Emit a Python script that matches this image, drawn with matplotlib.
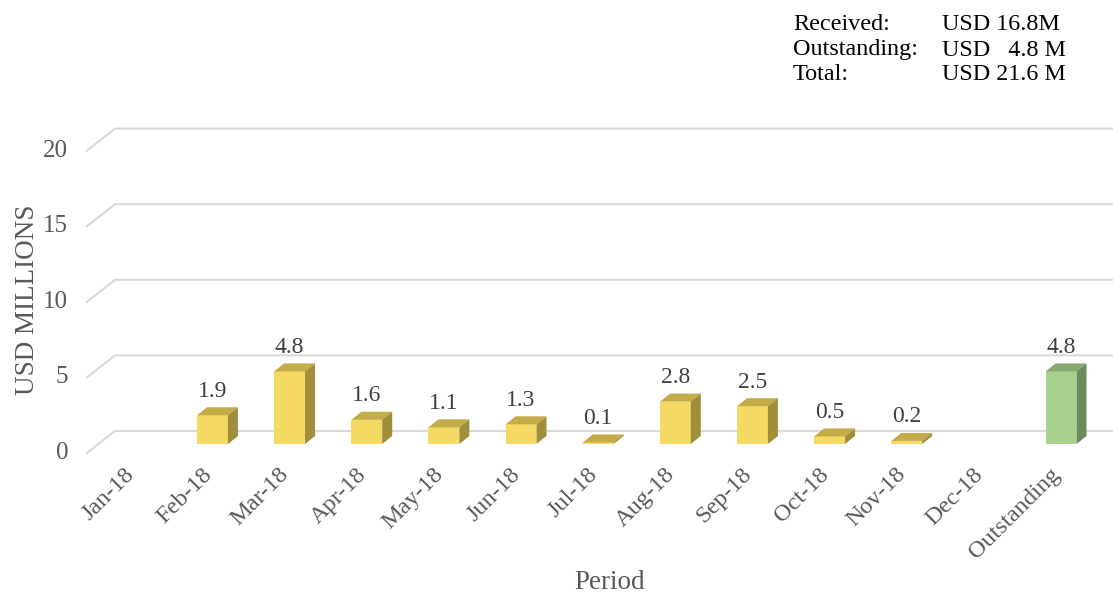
import matplotlib
matplotlib.use('Agg')
import matplotlib.pyplot as plt
from matplotlib.patches import Polygon
import numpy as np

plt.rcParams['font.family'] = ['Liberation Serif', 'DejaVu Serif']

# ── Data ─────────────────────────────────────────────────────────
periods = ['Jan-18', 'Feb-18', 'Mar-18', 'Apr-18', 'May-18', 'Jun-18', 'Jul-18',
           'Aug-18', 'Sep-18', 'Oct-18', 'Nov-18', 'Dec-18', 'Outstanding']
amounts = [None, 1.9, 4.8, 1.6, 1.1, 1.3, 0.1, 2.8, 2.5, 0.5, 0.2, None, 4.8]
y_ticks = [0, 5, 10, 15, 20]
summary_labels = ['Received:', 'Outstanding:', 'Total:']
summary_values = ['USD 16.8M', 'USD   4.8 M', 'USD 21.6 M']

# ── Styles ───────────────────────────────────────────────────────
yellow = ('#f4d962', '#c2ab48', '#a08e3a')   # front, top, side
green = ('#a9d18e', '#86a872', '#6c8a5a')
grid_c = '#d9d9d9'
txt_c = '#595959'

# 3D geometry (data units)
BAR_W = 0.40
BAR_DX, BAR_DY = 0.13, 0.53
WALL_X0, WALL_X1, WALL_X2 = -0.627, -0.264, 12.67
WALL_DY0, WALL_DY1 = -0.6, 0.86

fig = plt.figure(figsize=(11.13, 6.01), dpi=100)
ax = fig.add_axes([0.0696, 0.2361, 0.9357, 0.566])
ax.set_xlim(-0.75, 12.75)
ax.set_ylim(-1, 21.5)
ax.axis('off')

# back wall gridlines
for g in y_ticks:
    ax.plot([WALL_X0, WALL_X1, WALL_X2], [g + WALL_DY0, g + WALL_DY1, g + WALL_DY1],
            color=grid_c, lw=1.5, zorder=1, clip_on=False, solid_joinstyle='miter')
    ax.text(-0.87, g + WALL_DY0, str(g), ha='right', va='center',
            fontsize=18, color=txt_c)

# bars
x = np.arange(len(periods))
for i, v in enumerate(amounts):
    if v is None:
        continue
    front, top, side = green if periods[i] == 'Outstanding' else yellow
    x0, x1 = i - BAR_W / 2, i + BAR_W / 2
    ax.bar(i, v, width=BAR_W, color=front, linewidth=0, zorder=3)
    ax.add_patch(Polygon([(x0, v), (x1, v), (x1 + BAR_DX, v + BAR_DY), (x0 + BAR_DX, v + BAR_DY)],
                         closed=True, facecolor=top, edgecolor='none', zorder=3))
    ax.add_patch(Polygon([(x1, 0), (x1, v), (x1 + BAR_DX, v + BAR_DY), (x1 + BAR_DX, BAR_DY)],
                         closed=True, facecolor=side, edgecolor='none', zorder=3))
    ax.annotate(f'{v:.1f}', (i, v + BAR_DY), xytext=(0, 4),
                textcoords='offset points', ha='center', va='bottom',
                fontsize=17, color='#404040')

# category labels
for i, p in enumerate(periods):
    ax.text(i - 0.05, -1.8, p, rotation=45, ha='right', va='center',
            rotation_mode='anchor', fontsize=17.5, color=txt_c)

fig.text(0.0243, 0.5008, 'USD MILLIONS', rotation=90, ha='center', va='center',
         fontsize=19.5, color=txt_c)
fig.text(0.548, 0.0316, 'Period', ha='center', va='center', fontsize=19.5, color=txt_c)

# summary box
for k, (lab, val) in enumerate(zip(summary_labels, summary_values)):
    yy = 1 - (25 + 25 * k) / 601
    fig.text(793 / 1113, yy, lab, ha='left', va='center', fontsize=17.4, color='black')
    fig.text(942 / 1113, yy, val, ha='left', va='center', fontsize=17.4, color='black')

plt.savefig('out.png', dpi=100)
plt.close()
